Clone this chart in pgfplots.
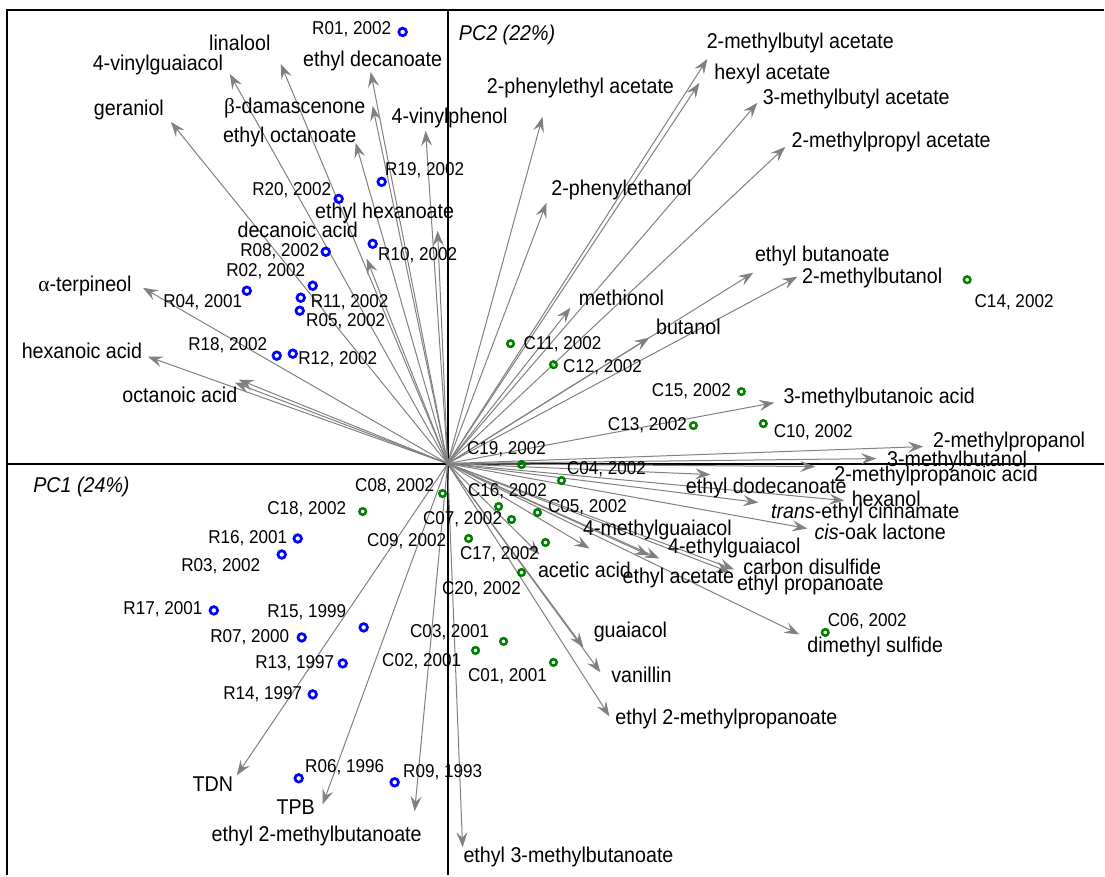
\documentclass[border=0pt]{standalone}
\usepackage{pgfplots}
\pgfplotsset{compat=1.18}
\usepackage{pgfplotstable}
\usetikzlibrary{arrows.meta}
\usepackage{fontspec}
\setmainfont{Liberation Sans}[FakeStretch=0.92]
\newfontfamily\grk{Liberation Serif}
\definecolor{arrowgray}{RGB}{128,128,128}
\definecolor{ptblue}{RGB}{0,0,255}
\definecolor{ptgreen}{RGB}{0,128,0}
\newcommand\varfont{\fontsize{10.7}{12}\selectfont}
\newcommand\samfont{\fontsize{9.3}{11}\selectfont}

% loadings: arrow tips
\pgfplotstableread{
u v
-277 342
-218 390
-167 400
-77 392
-75 358
-92 321
-22 333
-81 205
-10 233
-305 176
-300 107
-213 81
-209 84
95 347
99 261
260 405
252 381
310 361
338 317
123 156
202 126
306 191
350 187
327 61
476 17
429 5
368 -3
263 -11
397 -37
311 -39
360 -65
92 -91
142 -85
202 -92
212 -95
287 -106
283 -109
136 -184
153 -209
162 -253
352 -171
15 -384
-33 -348
-125 -341
-211 -312
}\loadtab

% variable labels
\pgfplotstableread[col sep=semicolon]{
x;y;label
-208;421;linalool
-290;399;4-vinylguaiacol
-75;403;ethyl decanoate
-319;354;geraniol
-153;356;{\grk β}-damascenone
-158;327;ethyl octanoate
2;346;4-vinylphenol
-63;251;ethyl hexanoate
-150;234;decanoic acid
-363;178;{\grk α}-terpineol
-366;113;hexanoic acid
-268;69;octanoic acid
353;421;2-methylbutyl acetate
325;390;hexyl acetate
133;376;2-phenylethyl acetate
409;365;3-methylbutyl acetate
444;322;2-methylpropyl acetate
174;274;2-phenylethanol
375;208;ethyl butanoate
425;186;2-methylbutanol
174;166;methionol
241;137;butanol
432;66;3-methylbutanoic acid
562;22;2-methylpropanol
510;3;3-methylbutanol
489;-12;2-methylpropanoic acid
319;-24;ethyl dodecanoate
439;-35;hexanol
418;-49;\textit{trans}-ethyl cinnamate
433;-68;\textit{cis}-oak lactone
210;-66;4-methylguaiacol
287;-84;4-ethylguaiacol
137;-106;acetic acid
231;-114;ethyl acetate
365;-103;carbon disulfide
363;-122;ethyl propanoate
183;-169;guaiacol
194;-211;vanillin
428;-184;dimethyl sulfide
279;-256;ethyl 2-methylpropanoate
121;-394;ethyl 3-methylbutanoate
-131;-373;ethyl 2-methylbutanoate
-152;-344;TPB
-235;-321;TDN
}\vartab

% red wines (scores)
\pgfplotstableread{
x y
-45 432
-66 282
-109 265
-75 220
-122 212
-135 178
-201 173
-147 166
-148 153
-171 108
-155 110
-150 -75
-166 -91
-234 -147
-84 -164
-146 -174
-105 -200
-135 -231
-149 -315
-53 -319
}\redtab

% other wines (scores)
\pgfplotstableread{
x y
-5 -30
-85 -48
74 -1
114 -17
51 -43
64 -56
90 -49
21 -75
98 -79
74 -109
56 -178
28 -187
106 -199
378 -169
63 120
106 99
294 72
246 38
316 40
520 184
}\ctab

% sample labels
\pgfplotstableread[col sep=semicolon]{
x;y;label
-96;435;R01, 2002
-23;294;R19, 2002
-156;274;R20, 2002
-30;209;R10, 2002
-168;213;R08, 2002
-182;193;R02, 2002
-245;162;R04, 2001
-98;162;R11, 2002
-102;143;R05, 2002
-220;118;R18, 2002
-110;104;R12, 2002
-53;-23;C08, 2002
-141;-46;C18, 2002
-200;-75;R16, 2001
-227;-103;R03, 2002
-285;-146;R17, 2001
-141;-149;R15, 1999
-198;-174;R07, 2000
-153;-200;R13, 1997
-185;-231;R14, 1997
-103;-304;R06, 1996
-5;-309;R09, 1993
-41;-78;C09, 2002
59;14;C19, 2002
159;-6;C04, 2002
60;-28;C16, 2002
140;-44;C05, 2002
15;-56;C07, 2002
52;-91;C17, 2002
34;-126;C20, 2002
2;-169;C03, 2001
-26;-198;C02, 2001
60;-213;C01, 2001
420;-158;C06, 2002
115;119;C11, 2002
155;96;C12, 2002
244;72;C15, 2002
200;38;C13, 2002
366;31;C10, 2002
567;162;C14, 2002
}\samtab

\begin{document}
\begin{tikzpicture}
\begin{axis}[
  scale only axis,
  x=0.5pt, y=0.5pt,
  xmin=-448, xmax=657, ymin=-412, ymax=464,
  axis line style={draw=none},
  xtick=\empty, ytick=\empty,
  clip=false,
]
% frame and axes
\draw[black, line width=1pt] (axis cs:-440.5,-412) -- (axis cs:-440.5,453.5) -- (axis cs:657,453.5);
\draw[black, line width=1pt] (axis cs:-440.5,0) -- (axis cs:657,0);
\draw[black, line width=1pt] (axis cs:0,-412) -- (axis cs:0,453.5);

% loading arrows
\addplot[arrowgray, line width=0.5pt,
  quiver={u=\thisrow{u}, v=\thisrow{v},
    every arrow/.append style={-{Stealth[length=7.5pt,width=5.5pt,inset=2.8pt]}}}]
  table[x expr=0, y expr=0] \loadtab;

% scores
\addplot[only marks, mark=o, mark size=1.9pt, ptblue, mark options={line width=1.35pt}] table[x=x,y=y] \redtab;
\addplot[only marks, mark=o, mark size=1.65pt, ptgreen, mark options={line width=1.25pt}] table[x=x,y=y] \ctab;

% variable labels
\addplot[draw=none, mark=none, point meta=explicit symbolic,
  nodes near coords={\pgfplotspointmeta},
  every node near coord/.append style={anchor=center, inner sep=0pt, font=\varfont, text=black}]
  table[x=x, y=y, meta=label] \vartab;

% sample labels
\addplot[draw=none, mark=none, point meta=explicit symbolic,
  nodes near coords={\pgfplotspointmeta},
  every node near coord/.append style={anchor=center, inner sep=0pt, font=\samfont, text=black}]
  table[x=x, y=y, meta=label] \samtab;

\node[anchor=west, inner sep=0pt, font=\varfont\itshape] at (axis cs:11,429) {PC2 (22\%)};
\node[anchor=west, inner sep=0pt, font=\varfont\itshape] at (axis cs:-415,-23) {PC1 (24\%)};
\end{axis}
\end{tikzpicture}
\end{document}
